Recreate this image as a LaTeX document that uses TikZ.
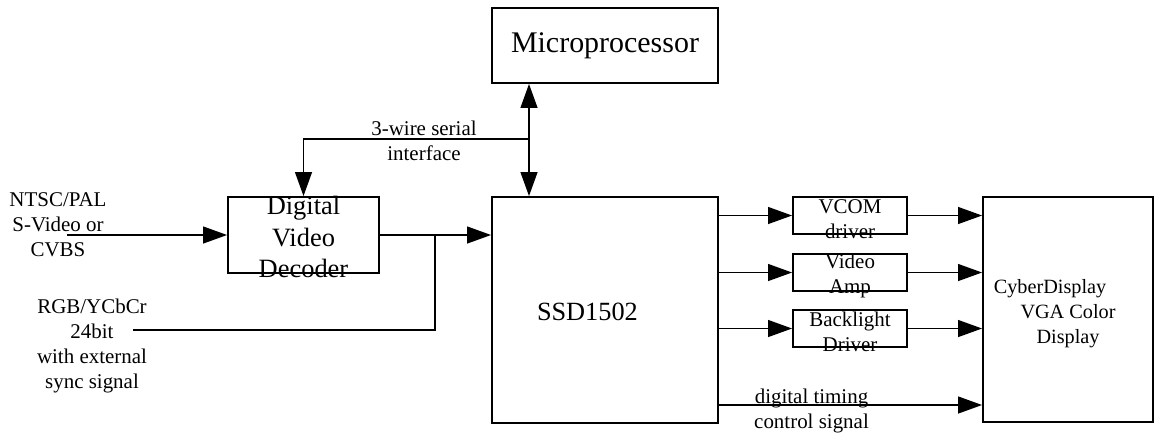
\documentclass[tikz,border=0pt]{standalone}
\usepackage{fontspec}
\setmainfont{Liberation Serif}
\usetikzlibrary{arrows.meta}

\begin{document}
\begin{tikzpicture}[x=0.25cm, y=-0.25cm, line width=1.3pt,
   blk/.style = {draw, rectangle, inner sep=0pt},
   txt/.style = {align=center, inner sep=0pt, font=\fontsize{14.9}{17.8}\selectfont},
   >={Triangle[length=0.6cm, width=0.42cm]}]
\useasboundingbox (0,0) rectangle (115.4,43.5);

% blocks
\node[blk, minimum width=5.65cm, minimum height=1.875cm, font=\fontsize{21.3}{25}\selectfont] (micro) at (60.5,4.55) {Microprocessor};
\node[blk, minimum width=5.65cm, minimum height=5.65cm,
   label={[txt, font=\fontsize{18.7}{22}\selectfont, xshift=-0.44cm, yshift=-0.05cm]center:SSD1502}] (ssd) at (60.5,31.0) {};
\node[blk, minimum width=3.775cm, minimum height=1.9cm,
   label={[txt, font=\fontsize{18.8}{22.4}\selectfont, yshift=-0.05cm]center:Digital\\Video\\Decoder}] (dec) at (30.35,23.5) {};
\node[blk, minimum width=4.25cm, minimum height=5.625cm,
   label={[txt, font=\fontsize{14.4}{17.8}\selectfont, yshift=-0.11cm]center:CyberDisplay\hspace*{0.9cm}\\VGA Color\\Display}] (disp) at (106.8,30.95) {};

% inputs
\node[txt] (ntsc) at (5.8,22.5) {NTSC/PAL\\S-Video or\\CVBS};
\node[txt] (rgb) at (9.2,34.6) {RGB/YCbCr\\24bit\\with external\\sync signal};
\coordinate (vin) at (6.7,23.5);
\coordinate (rgbin) at (13.3,33.0);
\coordinate (join) at (43.5,23.5);
\draw[->] (vin) -- (dec.west);
\draw[->] (dec.east) -- (ssd.west |- dec.east);
\draw (rgbin) -| (join);

% serial bus
\coordinate (bus) at (52.9,13.9);
\node[txt] (serial) at (42.4,14.1) {3-wire serial\\interface};
\draw[<->] (micro.south -| bus) -- (ssd.north -| bus);
\draw[->] (bus) -| (dec.north);

% drivers
\foreach \n/\lbl/\y in {vcom/{VCOM\\driver}/21.55, amp/{Video\\Amp}/27.25, back/{Backlight\\Driver}/32.85}{
   \node[blk, minimum width=2.85cm, minimum height=0.925cm, label={[txt, yshift=-0.08cm]center:\lbl}] (\n) at (85,\y) {};
   \draw[->] (ssd.east |- \n) -- (\n);
   \draw[->] (\n) -- (disp.west |- \n);
   }

% timing
\coordinate (tim) at (75,40.5);
\node[txt] (timlbl) at (81.15,41.1) {digital timing\\control signal};
\draw[->] (ssd.east |- tim) -- (disp.west |- tim);

\end{tikzpicture}
\end{document}
